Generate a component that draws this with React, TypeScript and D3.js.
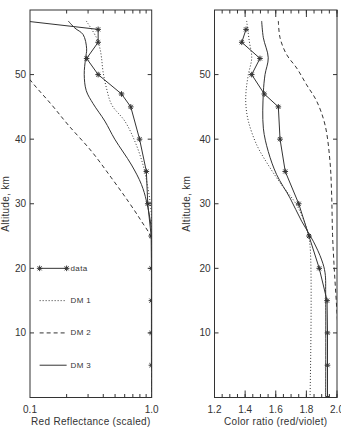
import React from 'react';
import * as d3 from 'd3';

// [altitude km, red reflectance (scaled)]
const redData: [number, number][] = [
  [59, 0.043], [57, 0.363], [55, 0.363], [52.5, 0.292], [50, 0.363], [47, 0.565],
  [45, 0.673], [40, 0.795], [35, 0.904], [30, 0.928], [25, 0.99],
  [20, 0.995], [15, 0.995], [10, 0.995], [5, 0.995],
];
const redDM1: [number, number][] = [
  [58.3, 0.29], [55.7, 0.352], [54.1, 0.375], [52.6, 0.387], [50.5, 0.398],
  [47.9, 0.425], [45.3, 0.47], [42.8, 0.601], [39.7, 0.726], [36, 0.849],
  [32.5, 0.93], [28.8, 0.99], [25, 1.0], [0, 1.0],
];
const redDM2: [number, number][] = [
  [58, 0.045], [49.2, 0.1], [45.3, 0.151], [42.2, 0.206], [38.1, 0.321],
  [34, 0.467], [30.4, 0.64], [27.3, 0.823], [24.7, 0.99], [22, 1.0], [0, 1.0],
];
const redDM3: [number, number][] = [
  [58.3, 0.206], [57.2, 0.234], [56.2, 0.273], [54, 0.292], [52.5, 0.286],
  [50, 0.279], [47.5, 0.29], [45.5, 0.33], [42.8, 0.412], [40, 0.497],
  [36, 0.683], [33, 0.823], [30.4, 0.906], [26.3, 0.99], [23, 1.0], [0, 1.0],
];

// [altitude km, color ratio red/violet]
const colorData: [number, number][] = [
  [57, 1.406], [55, 1.378], [52.5, 1.497], [50, 1.443], [47, 1.525],
  [45, 1.617], [40, 1.628], [35, 1.662], [30, 1.75], [25, 1.817],
  [20, 1.884], [15, 1.935], [10, 1.938], [5, 1.938], [0, 1.938],
];
const colorDM1: [number, number][] = [
  [58.3, 1.41], [55.2, 1.427], [52.6, 1.443], [50, 1.421], [47.4, 1.406],
  [45.3, 1.405], [42.8, 1.421], [39.1, 1.476], [36, 1.551], [32.9, 1.639],
  [29.8, 1.737], [26.2, 1.802], [23.5, 1.824], [0, 1.824],
];
const colorDM2: [number, number][] = [
  [58.3, 1.617], [55.7, 1.628], [53.1, 1.671], [51, 1.737], [48.4, 1.802],
  [45.9, 1.867], [42.2, 1.922], [36.6, 1.954], [31.4, 1.965], [25.2, 1.971],
  [20.8, 1.98], [13.1, 2.0], [5, 2.02], [0, 2.025],
];
const colorDM3: [number, number][] = [
  [58.3, 1.508], [55.7, 1.519], [52.6, 1.551], [50, 1.53], [47.2, 1.519],
  [41.7, 1.519], [38.1, 1.551], [34.5, 1.606], [30.9, 1.693], [27.3, 1.769],
  [24.2, 1.845], [21.3, 1.9], [19.3, 1.922], [15.6, 1.926], [0, 1.926],
];

const altTicks = [10, 20, 30, 40, 50];
const redMinorTicks = [0.2, 0.3, 0.4, 0.5, 0.6, 0.7, 0.8, 0.9];
const redLabels = [0.1, 1.0];
const colorMajorTicks = [1.2, 1.4, 1.6, 1.8, 2.0];
const colorMinorTicks = d3.range(1.2, 2.0001, 0.05);
const legendItems = [
  { label: 'data', alt: 20, dash: '' },
  { label: 'DM 1', alt: 15, dash: '1,2' },
  { label: 'DM 2', alt: 10, dash: '4,3' },
  { label: 'DM 3', alt: 5, dash: '' },
];

const ink = '#333';
const font = 'Liberation Sans, Arial, sans-serif';

const yAlt = d3.scaleLinear().domain([0, 60]).range([397.5, 10]);
const xRed = d3.scaleLog().domain([0.1, 1.0]).range([30, 151.7]);
const xCol = d3.scaleLinear().domain([1.2, 2.0]).range([214.5, 337]);

const Star: React.FC<{ x: number; y: number }> = ({ x, y }) => {
  const r = 2.8;
  const d = r * 0.72;
  return (
    <g stroke={ink} strokeWidth={1}>
      <line x1={x - r} y1={y} x2={x + r} y2={y} />
      <line x1={x} y1={y - r} x2={x} y2={y + r} />
      <line x1={x - d} y1={y - d} x2={x + d} y2={y + d} />
      <line x1={x - d} y1={y + d} x2={x + d} y2={y - d} />
    </g>
  );
};

const Panel: React.FC<{
  id: string;
  x: d3.ScaleContinuousNumeric<number, number>;
  data: [number, number][];
  dm1: [number, number][];
  dm2: [number, number][];
  dm3: [number, number][];
  major: number[];
  minor: number[];
  labels: number[];
  title: string;
  yTitleX: number;
  legend?: boolean;
}> = ({ id, x, data, dm1, dm2, dm3, major, minor, labels, title, yTitleX, legend }) => {
  const [x0, x1] = x.range();
  const [yb, yt] = yAlt.range();
  const smooth = d3.line<[number, number]>()
    .x((d) => x(d[1]))
    .y((d) => yAlt(d[0]))
    .curve(d3.curveCatmullRom);
  const straight = d3.line<[number, number]>()
    .x((d) => x(d[1]))
    .y((d) => yAlt(d[0]));
  return (
    <g>
      <defs>
        <clipPath id={id}>
          <rect x={x0} y={yt} width={x1 - x0} height={yb - yt} />
        </clipPath>
      </defs>
      <g clipPath={`url(#${id})`} fill="none">
        <path d={smooth(dm1) || ''} stroke={ink} strokeWidth={1} strokeDasharray="1,2" />
        <path d={smooth(dm2) || ''} stroke={ink} strokeWidth={1} strokeDasharray="4,3" />
        <path d={smooth(dm3) || ''} stroke={ink} strokeWidth={1} />
        <path d={straight(data) || ''} stroke={ink} strokeWidth={1} />
        {data.map((d, i) => (
          <Star key={i} x={x(d[1])} y={yAlt(d[0])} />
        ))}
      </g>
      <rect x={x0} y={yt} width={x1 - x0} height={yb - yt} fill="none" stroke={ink} strokeWidth={1} />
      {minor.map((t, i) => (
        <g key={`m${i}`} stroke={ink}>
          <line x1={x(t)} x2={x(t)} y1={yb} y2={yb - 3.5} />
          <line x1={x(t)} x2={x(t)} y1={yt} y2={yt + 3.5} />
        </g>
      ))}
      {major.map((t, i) => (
        <g key={`M${i}`} stroke={ink}>
          <line x1={x(t)} x2={x(t)} y1={yb} y2={yb - 7} />
          <line x1={x(t)} x2={x(t)} y1={yt} y2={yt + 7} />
        </g>
      ))}
      {labels.map((t, i) => (
        <text key={`l${i}`} x={x(t)} y={413} textAnchor="middle" fontSize={10} fill={ink} fontFamily={font}>
          {t.toFixed(1)}
        </text>
      ))}
      <text x={(x0 + x1) / 2} y={425} textAnchor="middle" fontSize={10} fill={ink} fontFamily={font} letterSpacing={0.3}>
        {title}
      </text>
      {altTicks.map((t) => (
        <g key={`a${t}`}>
          <line x1={x0} x2={x0 + 4} y1={yAlt(t)} y2={yAlt(t)} stroke={ink} />
          <line x1={x1} x2={x1 - 4} y1={yAlt(t)} y2={yAlt(t)} stroke={ink} />
          <text x={x0 - 4} y={yAlt(t) + 3.5} textAnchor="end" fontSize={10} fill={ink} fontFamily={font}>
            {t}
          </text>
        </g>
      ))}
      <text
        transform={`translate(${yTitleX},${yAlt(30)}) rotate(-90)`}
        textAnchor="middle"
        fontSize={10}
        fill={ink}
        fontFamily={font}
        letterSpacing={0.3}
      >
        Altitude, km
      </text>
      {legend &&
        legendItems.map((it) => {
          const ly = yAlt(it.alt);
          const lx0 = x(0.12);
          const lx1 = x(0.2);
          return (
            <g key={it.label}>
              <line x1={lx0} x2={lx1} y1={ly} y2={ly} stroke={ink} strokeDasharray={it.dash || undefined} />
              {it.label === 'data' && (
                <>
                  <Star x={lx0} y={ly} />
                  <Star x={lx1} y={ly} />
                </>
              )}
              <text x={x(0.215)} y={ly + 2.5} fontSize={8} fill={ink} fontFamily={font} letterSpacing={0.4}>
                {it.label}
              </text>
            </g>
          );
        })}
    </g>
  );
};

const App: React.FC = () => {
  return (
    <svg width={341} height={427} style={{ position: 'absolute', left: 0, top: 0, background: '#fff' }}>
      <Panel
        id="clipL"
        x={xRed}
        data={redData}
        dm1={redDM1}
        dm2={redDM2}
        dm3={redDM3}
        major={[]}
        minor={redMinorTicks}
        labels={redLabels}
        title="Red Reflectance (scaled)"
        yTitleX={9}
        legend
      />
      <Panel
        id="clipR"
        x={xCol}
        data={colorData}
        dm1={colorDM1}
        dm2={colorDM2}
        dm3={colorDM3}
        major={colorMajorTicks}
        minor={colorMinorTicks}
        labels={colorMajorTicks}
        title="Color ratio (red/violet)"
        yTitleX={190}
      />
    </svg>
  );
};

export default App;
